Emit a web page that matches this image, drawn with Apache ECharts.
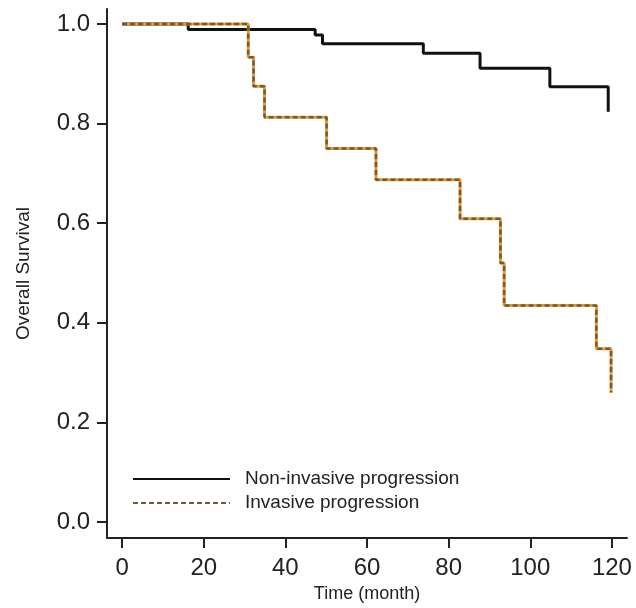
<!DOCTYPE html>
<html>
<head>
<meta charset="utf-8">
<script src="https://cdn.jsdelivr.net/npm/echarts@6/dist/echarts.min.js"></script>
<style>
  html, body { margin: 0; padding: 0; background: #fff; }
  #chart { width: 636px; height: 608px; }
</style>
</head>
<body>
<div id="chart"></div>
<script>
// Kaplan-Meier steps: time (month) and survival after each event
const nonInvTime = [0, 16.2, 47.3, 49.1, 73.8, 87.7, 104.8, 119.1]
const nonInvSurv = [1.0, 0.989, 0.978, 0.960, 0.941, 0.911, 0.874, 0.824]
const invTime = [0, 30.9, 32.2, 34.9, 50.1, 62.2, 82.8, 92.7, 93.6, 116.2, 119.8]
const invSurv = [1.0, 0.933, 0.875, 0.8125, 0.75, 0.6875, 0.609, 0.52, 0.435, 0.348, 0.26]
const xTicks = [0, 20, 40, 60, 80, 100, 120]
const yTicks = [0, 0.2, 0.4, 0.6, 0.8, 1.0]

const toPairs = (t, s) => t.map((v, i) => [v, s[i]])
const font = "'Liberation Sans', Arial, sans-serif"

const chart = echarts.init(document.getElementById('chart'))
const option = {
  backgroundColor: '#fff',
  animation: false,
  grid: { left: 107, right: 9, top: 9, bottom: 69 },
  legend: {
    orient: 'vertical',
    left: 127,
    top: 464,
    itemWidth: 97,
    itemHeight: 14,
    itemGap: 4,
    itemStyle: { opacity: 0 },
    data: ['Non-invasive progression', 'Invasive progression'],
    textStyle: { fontFamily: font, fontSize: 19, color: '#222', lineHeight: 20, padding: [0, 0, 0, 10] }
  },
  xAxis: {
    type: 'value',
    min: -3.7,
    max: 123.7,
    name: 'Time (month)',
    nameLocation: 'middle',
    nameGap: 41,
    nameTextStyle: { fontFamily: font, fontSize: 18, color: '#222' },
    axisLine: { onZero: false, lineStyle: { color: '#222', width: 2 } },
    axisTick: { show: true, customValues: xTicks, length: 10, lineStyle: { color: '#222', width: 2 } },
    axisLabel: { customValues: xTicks, margin: 18, fontFamily: font, fontSize: 24, color: '#222' },
    splitLine: { show: false }
  },
  yAxis: {
    type: 'value',
    min: -0.032,
    max: 1.03,
    name: 'Overall Survival',
    nameLocation: 'middle',
    nameGap: 74,
    nameTextStyle: { fontFamily: font, fontSize: 19, color: '#222' },
    axisLine: { show: true, onZero: false, lineStyle: { color: '#222', width: 2 } },
    axisTick: { show: true, customValues: yTicks, length: 10, lineStyle: { color: '#222', width: 2 } },
    axisLabel: {
      customValues: yTicks,
      margin: 17,
      fontFamily: font,
      fontSize: 24,
      color: '#222',
      formatter: v => v.toFixed(1)
    },
    splitLine: { show: false }
  },
  series: [
    {
      name: 'Non-invasive progression',
      type: 'line',
      step: 'end',
      symbol: 'none',
      color: '#111',
      lineStyle: { color: '#111', width: 3 },
      data: toPairs(nonInvTime, nonInvSurv)
    },
    {
      // orange underlay for the dashed curve
      type: 'line',
      step: 'end',
      symbol: 'none',
      lineStyle: { color: '#ec9a2a', width: 3 },
      data: toPairs(invTime, invSurv)
    },
    {
      name: 'Invasive progression',
      type: 'line',
      step: 'end',
      symbol: 'none',
      color: '#6e5a3c',
      lineStyle: { color: '#6e5a3c', width: 2.5, type: [5, 3] },
      data: toPairs(invTime, invSurv)
    }
  ]
}
chart.setOption(option)
</script>
</body>
</html>
